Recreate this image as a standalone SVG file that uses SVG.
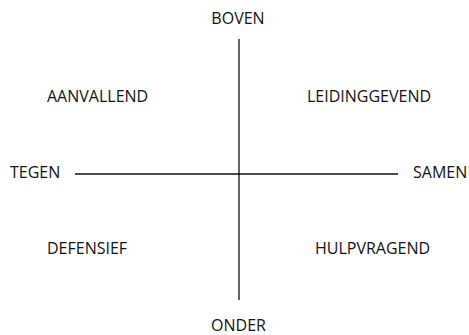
<svg xmlns="http://www.w3.org/2000/svg" width="469" height="335" viewBox="0 0 469 335">
<style>
text{font-family:"Open Sans","Noto Sans","DejaVu Sans",sans-serif;font-size:16px;fill:#111}
.ax{stroke:#111;stroke-width:1.3;fill:none}
</style>
<rect width="469" height="335" fill="#fff"/>
<g id="connectors">
<line class="ax" x1="239" y1="39" x2="239" y2="300"/>
<line class="ax" x1="75" y1="174" x2="398" y2="174"/>
</g>
<g id="boven"><text x="238" y="24" text-anchor="middle">BOVEN</text></g>
<g id="onder"><text x="238.5" y="331" text-anchor="middle">ONDER</text></g>
<g id="tegen"><text x="10" y="178">TEGEN</text></g>
<g id="samen"><text x="413" y="178">SAMEN</text></g>
<g id="aanvallend"><text x="47" y="102">AANVALLEND</text></g>
<g id="leidinggevend"><text x="307" y="102">LEIDINGGEVEND</text></g>
<g id="defensief"><text x="47" y="254">DEFENSIEF</text></g>
<g id="hulpvragend"><text x="315" y="254">HULPVRAGEND</text></g>
</svg>
